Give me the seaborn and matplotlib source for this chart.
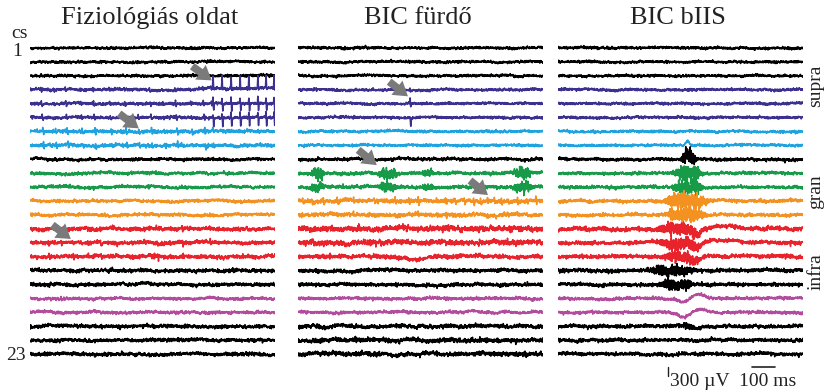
import numpy as np
import pandas as pd
import seaborn as sns
import matplotlib.pyplot as plt

sns.set_theme(style='white')
plt.rcParams['font.family'] = ['Liberation Serif', 'DejaVu Serif']

titles = ['Fiziológiás oldat', 'BIC fürdő', 'BIC bIIS']
n_ch = 23
ch_colors = (['#000000'] * 3 + ['#3b2f8f'] * 3 + ['#1ea3e0'] * 2 + ['#000000']
             + ['#179b48'] * 2 + ['#f39221'] * 2 + ['#e8232b'] * 3
             + ['#000000'] * 2 + ['#b34c9c'] * 2 + ['#000000'] * 3)
duration_ms = 1060
uv_per_row = 460          # channel spacing in µV

# background noise (µV) per panel, per channel
noise_uv = [
    [20, 20, 20, 22, 22, 22, 26, 26, 22, 24, 24, 24, 24, 30, 30, 30, 28, 28, 24, 24, 28, 28, 28],
    [20, 20, 20, 20, 20, 20, 20, 20, 24, 26, 26, 32, 30, 44, 44, 32, 28, 28, 24, 24, 32, 36, 36],
    [20, 20, 20, 20, 20, 20, 20, 20, 24, 24, 24, 26, 26, 34, 32, 32, 28, 28, 24, 24, 28, 28, 28],
]

# Fiziológiás oldat: ictal spikes in channels 4-6, small spikes elsewhere
p0_seizure_t = [792, 831, 870, 909, 947, 986, 1021, 1056]
p0_seizure_amp = {4: (430, -60), 5: (260, -250), 6: (240, -300)}
p0_small_t = [35, 90, 140, 205, 260, 330, 395, 450, 505, 560, 615, 680, 735, 770]
p0_small_amp = {4: 90, 5: 110, 6: 100, 7: 140, 8: 130, 14: 70, 15: 90, 16: 90}

# BIC fürdő: single spike in 4-6, bursts in green (centre, half-width, amp), spikes in orange
p1_spike_t = 485
p1_spike_amp = {4: (60, -30), 5: (200, -120), 6: (70, -280)}
p1_bursts = [(85, 24, 220), (388, 32, 230), (562, 20, 130), (972, 32, 210)]
p1_burst_rows = {10: 1.0, 11: 0.85}
p1_orange_t = [20, 60, 110, 170, 240, 330, 420, 480, 520, 600, 640, 680, 720, 760,
               790, 820, 850, 880, 910, 950, 990, 1030]
p1_orange_amp = {12: 120, 13: 70}
p1_dip = {16: (500, 40, -90)}

# BIC bIIS: population event around 555 ms (centre, half-width, amp)
p2_burst = {9: (565, 25, 320), 10: (562, 50, 290), 11: (562, 50, 300), 12: (556, 75, 320),
            13: (556, 65, 290), 14: (530, 80, 230), 15: (530, 75, 230), 16: (535, 65, 210),
            17: (490, 80, 190), 18: (515, 55, 220), 21: (565, 25, 110)}
p2_wave = {8: [(560, 8, 150)], 9: [(560, 10, 150)],
           14: [(600, 18, -200), (720, 70, 90)], 15: [(600, 18, -180), (720, 70, 80)],
           16: [(595, 18, -150), (700, 60, 40)], 19: [(540, 20, -130), (610, 25, 130)],
           20: [(545, 20, -140), (620, 25, 110)], 21: [(595, 18, -60)]}

# arrows: (panel, tail t, tail ch, head t, head ch)
arrows = [(0, 692, 2.2, 796, 3.45), (0, 376, 5.6, 480, 6.9), (0, 87, 13.6, 186, 14.85),
          (1, 385, 3.3, 485, 4.6), (1, 251, 8.2, 350, 9.55), (1, 735, 10.4, 831, 11.7)]

rng = np.random.default_rng(7)
t = np.arange(0, duration_ms, 0.5)


def gauss(c, w):
    return np.exp(-0.5 * ((t - c) / w) ** 2)


def spike(ts, up, down):
    return up * gauss(ts, 1.2) + down * gauss(ts + 2.5, 1.6)


def background(sd):
    white = rng.standard_normal(t.size) * sd
    white = np.convolve(white, np.ones(3) / 3 * 1.6, mode='same')
    slow = np.convolve(rng.standard_normal(t.size), np.ones(120) / np.sqrt(120), mode='same')
    return white + slow * sd * 0.5


def burst(c, hw, amp):
    # flat-topped envelope of fast activity
    env = np.exp(-0.5 * ((t - c) / hw) ** 4)
    return rng.standard_normal(t.size) * env * amp / 2.5


frames = []
for p in range(3):
    for ch in range(1, n_ch + 1):
        sig = background(noise_uv[p][ch - 1])
        if p == 0:
            if ch in p0_seizure_amp:
                up, down = p0_seizure_amp[ch]
                for ts in p0_seizure_t:
                    sig += spike(ts, up, down)
                sig += 40 * (t > 700) * np.clip((t - 700) / 90, 0, 1) * (ch == 4)
            if ch in p0_small_amp:
                for i, ts in enumerate(p0_small_t):
                    a = p0_small_amp[ch] * (1 if i % 2 == 0 else 0.7)
                    sig += spike(ts + 3 * ch, a, -a * 0.8)
        elif p == 1:
            if ch in p1_spike_amp:
                sig += spike(p1_spike_t, *p1_spike_amp[ch])
            if ch in p1_burst_rows:
                for c, w, a in p1_bursts:
                    sig += burst(c, w, a * p1_burst_rows[ch])
            if ch in p1_orange_amp:
                for ts in p1_orange_t:
                    a = p1_orange_amp[ch]
                    sig += spike(ts, a, -a * 0.8)
            if ch in p1_dip:
                c, w, a = p1_dip[ch]
                sig += a * gauss(c, w)
        else:
            if ch in p2_burst:
                sig += burst(*p2_burst[ch])
            for c, w, a in p2_wave.get(ch, []):
                sig += a * gauss(c, w)
        frames.append(pd.DataFrame({'panel': p, 'ch': ch, 't': t,
                                    'y': -ch + sig / uv_per_row}))
df = pd.concat(frames, ignore_index=True)
palette = {ch: ch_colors[ch - 1] for ch in range(1, n_ch + 1)}

W, H = 825, 391
serif = ['Liberation Serif', 'DejaVu Serif']
fig = plt.figure(figsize=(W / 100, H / 100), dpi=100)
lefts = [30, 298, 558]
axes = []
for p in range(3):
    ax = fig.add_axes([lefts[p] / W, (H - 368) / H, 245 / W, 334 / H])
    sns.lineplot(data=df[df.panel == p], x='t', y='y', hue='ch', palette=palette,
                 estimator=None, sort=False, legend=False, lw=1.1, ax=ax)
    ax.set_xlim(0, duration_ms)
    ax.set_ylim(-24, 0)
    ax.set_axis_off()
    axes.append(ax)
    fig.text((lefts[p] + 120) / W, 1 - 18 / H, titles[p], ha='center', va='center',
             fontsize=19, color='#222222', family=serif)

for p, tx, ty, hx, hy in arrows:
    axes[p].annotate('', xy=(hx, -hy), xytext=(tx, -ty),
                     arrowprops=dict(arrowstyle='simple,head_width=1.3,head_length=1.0,tail_width=0.55',
                                     fc='#7a7a7a', ec='none', mutation_scale=10))


def ftext(x, y, s, **kw):
    fig.text(x / W, 1 - y / H, s, color='#222222', family=serif, **kw)


ftext(11, 34, 'cs', fontsize=14, ha='left', va='center')
ftext(22, 51, '1', fontsize=14, ha='right', va='center')
ftext(26, 355, '23', fontsize=14, ha='right', va='center')
ftext(816, 86, 'supra', fontsize=14, rotation=90, ha='center', va='center')
ftext(816, 192, 'gran', fontsize=14, rotation=90, ha='center', va='center')
ftext(816, 272, 'infra', fontsize=14, rotation=90, ha='center', va='center')
ftext(670, 381, '300 µV', fontsize=14, ha='left', va='center')
ftext(739, 381, '100 ms', fontsize=14, ha='left', va='center')

# scale bars in panel 3 data units
ax3 = axes[2]
ax3.plot([474, 474], [-24.55, -24.55 + 300 / uv_per_row], color='#222222', lw=1, clip_on=False)
ax3.plot([840, 940], [-23.9, -23.9], color='#222222', lw=1.2, clip_on=False)

fig.savefig('out.png', dpi=100)
